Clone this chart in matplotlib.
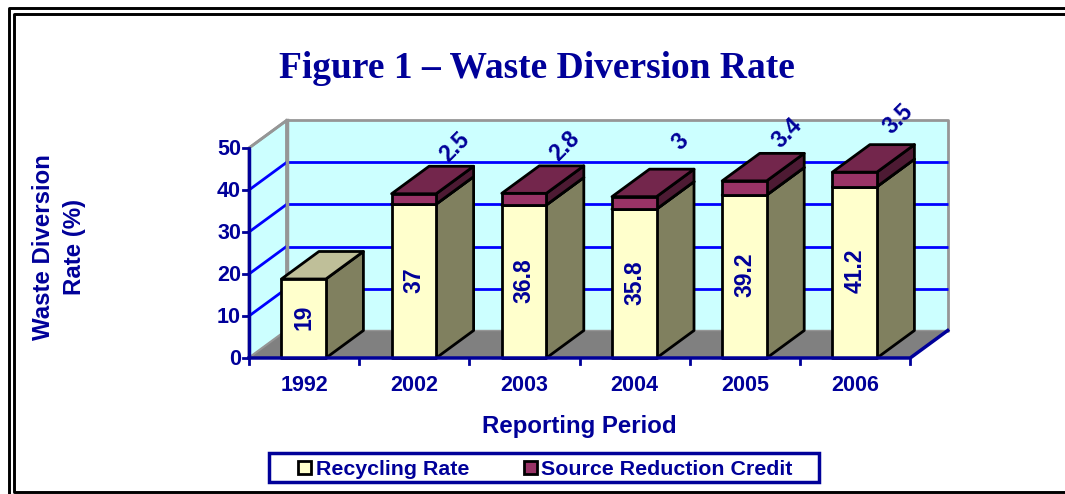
import matplotlib
matplotlib.use('Agg')
import matplotlib.pyplot as plt
from matplotlib.patches import Polygon, Rectangle

years = ['1992', '2002', '2003', '2004', '2005', '2006']
recycling = [19, 37, 36.8, 35.8, 39.2, 41.2]
source_credit = [0, 2.5, 2.8, 3, 3.4, 3.5]
credit_labels = ['', '2.5', '2.8', '3', '3.4', '3.5']
y_ticks = [0, 10, 20, 30, 40, 50]

NAVY = '#000099'
BLUE = '#0000FF'
WALL = '#CCFFFF'
FLOOR = '#808080'
WALL_EDGE = '#969696'
YEL, YEL_TOP, YEL_SIDE = '#FFFFCC', '#BFBF99', '#80805F'
MAR, MAR_TOP, MAR_SIDE = '#993366', '#73264C', '#4D1A33'

plt.rcParams['font.family'] = ['Liberation Sans', 'DejaVu Sans']
plt.rcParams['font.weight'] = 'bold'

W, H = 1065, 494
fig = plt.figure(figsize=(W / 100, H / 100), dpi=100)
ax = fig.add_axes([0, 0, 1, 1])
ax.axis('off')

# one x unit = one category, one y unit = one percent
px_x = 110.2
px_y = 4.2
x0 = 249
y0 = 358
ax.set_xlim(-x0 / px_x, (W - x0) / px_x)
ax.set_ylim(-(H - y0) / px_y, y0 / px_y)

dx = 37.5 / px_x
dy = 27.5 / px_y
n = len(years)
top = y_ticks[-1]
bar_w = 44.5 / px_x
bar_k = 0.99
# pixel nudges for the slanted labels, they are not evenly placed in the original
nudge_x = [0, 9, 9, 14, 11, 12]
nudge_y = [0, 6, 6, 14, 7, 12]


def poly(pts, fc, ec='none', lw=0, z=1):
    ax.add_patch(Polygon(pts, closed=True, facecolor=fc, edgecolor=ec, linewidth=lw, zorder=z, joinstyle='round'))


# back wall, side wall, floor
poly([(dx, dy), (n + dx, dy), (n + dx, top + dy), (dx, top + dy)], WALL, WALL_EDGE, 2, 1)
poly([(0, 0), (dx, dy), (dx, top + dy), (0, top)], WALL, WALL_EDGE, 2, 1)
poly([(0, 0), (dx, dy), (n + dx, dy), (n, 0)], FLOOR, WALL_EDGE, 1, 2)

for t in y_ticks[1:-1] + [top]:
    if t < top:
        ax.plot([dx, n + dx], [t + dy, t + dy], color=BLUE, lw=2, zorder=2, solid_capstyle='butt')
    ax.plot([0, dx], [t, t + dy], color=BLUE if t < top else WALL_EDGE, lw=2, zorder=2)
ax.plot([dx, dx], [dy, top + dy], color=WALL_EDGE, lw=2.5, zorder=2)


def box(x, b, t, front, roof, side, z):
    poly([(x + bar_w, b), (x + bar_w + dx, b + dy), (x + bar_w + dx, t + dy), (x + bar_w, t)], side, 'black', 2, z)
    poly([(x, t), (x + bar_w, t), (x + bar_w + dx, t + dy), (x + dx, t + dy)], roof, 'black', 2, z)
    poly([(x, b), (x + bar_w, b), (x + bar_w, t), (x, t)], front, 'black', 2, z)


for i in range(n):
    x = i + 0.5 - bar_w / 2 - 0.004
    r = recycling[i] * bar_k
    c = source_credit[i] * bar_k
    box(x, 0, r, YEL, YEL_TOP, YEL_SIDE, 3 + i * 2)
    if c > 0:
        box(x, r, r + c, MAR, MAR_TOP, MAR_SIDE, 4 + i * 2)
    ax.text(i + 0.5 - 0.002, r / 2 + 0.3, str(recycling[i]), rotation=90, ha='center', va='center',
            color=NAVY, fontsize=16.5, zorder=30)
    if c > 0:
        ax.text(x + bar_w + dx * 0.25 + nudge_x[i] / px_x, r + c + dy + 3.2 + nudge_y[i] / px_y, credit_labels[i],
                rotation=45, ha='center', va='center', color=NAVY, fontsize=16.5, zorder=30)

# front axes
ax.plot([0, 0], [0, top], color=NAVY, lw=2.5, zorder=40, solid_capstyle='butt')
ax.plot([0, n, n + dx], [0, 0, dy], color=NAVY, lw=2.5, zorder=40)
for t in y_ticks:
    ax.plot([-6 / px_x, 0], [t, t], color=NAVY, lw=2, zorder=40)
    ax.text(-8 / px_x, t - 1 / px_y, str(t), ha='right', va='center', color=NAVY, fontsize=15.5)
for i in range(n + 1):
    ax.plot([i, i], [0, -6 / px_y], color=NAVY, lw=2, zorder=40)
for i, y in enumerate(years):
    ax.text(i + 0.5, -27 / px_y, y, ha='center', va='center', color=NAVY, fontsize=15.5)

ax.text(3, -68.5 / px_y, 'Reporting Period', ha='center', va='center', color=NAVY, fontsize=17.3)
fig.text(44 / W, 1 - 247 / H, 'Waste Diversion', rotation=90, ha='center', va='center', color=NAVY, fontsize=17.3)
fig.text(75 / W, 1 - 247 / H, 'Rate (%)', rotation=90, ha='center', va='center', color=NAVY, fontsize=17.3)
fig.text(537 / W, 1 - 64 / H, 'Figure 1 – Waste Diversion Rate', ha='center', va='center_baseline', color=NAVY,
         fontsize=27, family=['Liberation Serif', 'DejaVu Serif'])


# legend box, drawn in figure fractions
def fig_rect(x, y, w, h, fc, ec, lw):
    fig.add_artist(Rectangle((x / W, 1 - (y + h) / H), w / W, h / H, transform=fig.transFigure,
                             facecolor=fc, edgecolor=ec, linewidth=lw))


def fig_line(xs, ys):
    fig.add_artist(plt.Line2D([v / W for v in xs], [1 - v / H for v in ys], color='black', lw=2.1,
                              solid_capstyle='butt'))


fig_rect(268.5, 453, 550, 29, 'white', NAVY, 2.5)
fig_rect(298, 461, 13, 13, YEL, 'black', 2)
fig_rect(524, 461, 13, 13, MAR, 'black', 2)
fig.text(316 / W, 1 - 469 / H, 'Recycling Rate', ha='left', va='center', color=NAVY, fontsize=15.4)
fig.text(541 / W, 1 - 469 / H, 'Source Reduction Credit', ha='left', va='center', color=NAVY, fontsize=15.4)

# double outer frame, open on the right
fig_line([W, 8.5, 8.5], [8.5, 8.5, H])
fig_line([W, 14, 14, W], [14.5, 14.5, 491.5, 491.5])

fig.savefig('out.png', dpi=100)
